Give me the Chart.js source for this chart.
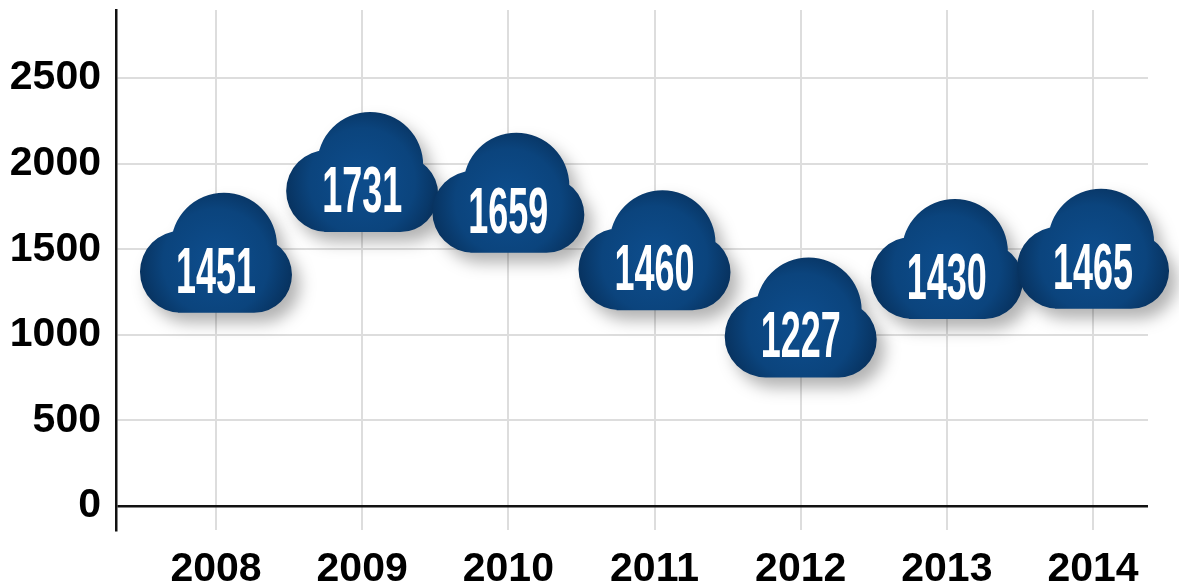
<!DOCTYPE html>
<html>
<head>
<meta charset="utf-8">
<script src="https://cdn.jsdelivr.net/npm/chart.js@4.4.1/dist/chart.umd.min.js"></script>
<style>
  body { margin: 0; background: #fff; }
  #wrap { width: 1179px; height: 588px; }
</style>
</head>
<body>
<div id="wrap"><canvas id="chart"></canvas></div>
<script>
// values
const years = ['2008', '2009', '2010', '2011', '2012', '2013', '2014'];
const visitors = [1451, 1731, 1659, 1460, 1227, 1430, 1465];
const yTicks = [0, 500, 1000, 1500, 2000, 2500];

const FONT = '"Liberation Sans Narrow", "Arial Narrow", "Liberation Sans", sans-serif';

// draws one cloud with its number at a point
function drawCloud(ctx, cx, cy, label) {
    ctx.save();
    ctx.beginPath();
    ctx.moveTo(cx + 8 + 53, cy - 8);
    ctx.arc(cx + 8, cy - 8, 53, 0, Math.PI * 2);
    ctx.moveTo(cx - 35 + 41, cy + 18);
    ctx.arc(cx - 35, cy + 18, 41, 0, Math.PI * 2);
    ctx.moveTo(cx + 38 + 38, cy + 21);
    ctx.arc(cx + 38, cy + 21, 38, 0, Math.PI * 2);
    ctx.rect(cx - 38, cy, 76, 59);

    const grad = ctx.createRadialGradient(cx, cy + 8, 10, cx, cy + 8, 88);
    grad.addColorStop(0, '#0d4c8b');
    grad.addColorStop(0.55, '#0b447d');
    grad.addColorStop(1, '#062b53');
    ctx.fillStyle = grad;
    ctx.shadowColor = 'rgba(0, 0, 0, 0.3)';
    ctx.shadowBlur = 16;
    ctx.shadowOffsetX = 8;
    ctx.shadowOffsetY = 10;
    ctx.fill();
    ctx.restore();

    ctx.save();
    ctx.font = 'bold 64px ' + FONT;
    ctx.fillStyle = '#ffffff';
    ctx.textAlign = 'center';
    ctx.textBaseline = 'alphabetic';
    const sx = 80 / ctx.measureText('0000').width;
    ctx.translate(cx, cy + 39);
    ctx.scale(sx, 1);
    ctx.fillText(label, 0, 0);
    ctx.restore();
}

const cloudPlugin = {
    id: 'clouds',
    afterDatasetsDraw(chart) {
        const meta = chart.getDatasetMeta(0);
        meta.data.forEach((pt, i) => {
            drawCloud(chart.ctx, pt.x, pt.y, String(visitors[i]));
        });
    }
};

const ctx = document.getElementById('chart').getContext('2d');
const chart = new Chart(ctx, {
    type: 'line',
    data: {
        datasets: [{
            data: years.map((y, i) => ({ x: Number(y), y: visitors[i] })),
            showLine: false,
            pointRadius: 0,
            pointHoverRadius: 0,
            yAxisID: 'y2',
            clip: false
        }]
    },
    options: {
        responsive: true,
        maintainAspectRatio: false,
        animation: false,
        layout: { padding: { top: 10, right: 31, left: 0, bottom: 0 } },
        plugins: {
            legend: { display: false },
            tooltip: { enabled: false }
        },
        scales: {
            x: {
                type: 'linear',
                min: 2007.316,
                max: 2014.376,
                afterBuildTicks: scale => {
                    scale.ticks = years.map(y => ({ value: Number(y) }));
                },
                afterFit: scale => {
                    scale.height = 58;
                    scale.paddingLeft = 0;
                    scale.paddingRight = 0;
                },
                ticks: {
                    callback: v => String(v),
                    autoSkip: false,
                    maxRotation: 0,
                    padding: 15,
                    color: '#000',
                    font: { family: FONT, size: 41, weight: 'bold' }
                },
                grid: { color: '#dddddd', lineWidth: 2, drawTicks: false },
                border: { display: false }
            },
            y: {
                type: 'linear',
                min: -140,
                max: 2897,
                afterBuildTicks: scale => {
                    scale.ticks = yTicks.map(v => ({ value: v }));
                },
                afterFit: scale => {
                    scale.width = 116;
                    scale.paddingTop = 0;
                    scale.paddingBottom = 0;
                },
                ticks: {
                    callback: v => String(v),
                    padding: 15,
                    color: '#000',
                    font: { family: FONT, size: 41, weight: 'bold' }
                },
                grid: {
                    color: c => (c.tick && c.tick.value === 0) ? '#111111' : '#dddddd',
                    lineWidth: c => (c.tick && c.tick.value === 0) ? 2.5 : 2,
                    drawTicks: false
                },
                border: { display: true, color: '#111111', width: 2.5 }
            },
            y2: {
                type: 'linear',
                display: false,
                min: 494,
                max: 2296
            }
        }
    },
    plugins: [cloudPlugin]
});
</script>
</body>
</html>
